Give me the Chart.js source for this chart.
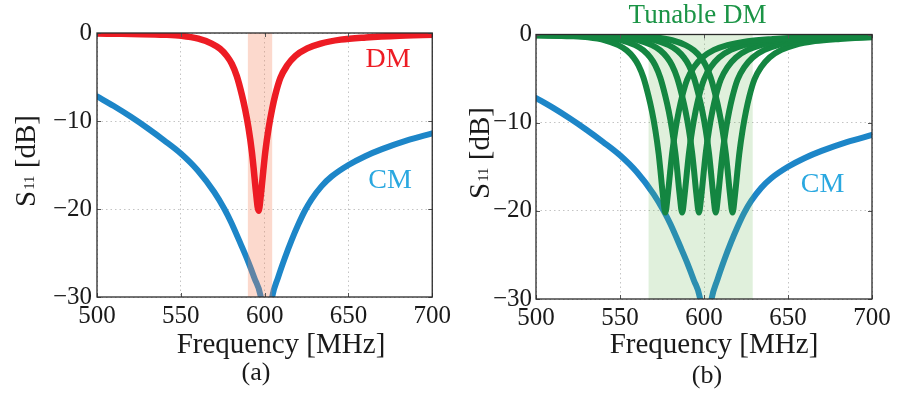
<!DOCTYPE html>
<html>
<head>
<meta charset="utf-8">
<script src="https://cdn.jsdelivr.net/npm/chart.js@4.4.0/dist/chart.umd.min.js"></script>
<style>
  html, body { margin: 0; padding: 0; background: #fff; }
  #wrap { position: relative; width: 897px; height: 395px; overflow: hidden; }
  canvas { position: absolute; top: 0; }
</style>
</head>
<body>
<div id="wrap">
  <canvas id="chartA" width="455" height="395" style="left:0px"></canvas>
  <canvas id="chartB" width="442" height="395" style="left:455px"></canvas>
</div>
<script>
// Axis ticks
const FREQ_TICKS = [500, 550, 600, 650, 700];
const S11_TICKS = [-30, -20, -10, 0];

// Common-mode reflection, MHz / dB
const CM_FREQ = [500, 510, 520, 530, 540, 550, 560, 570, 576, 580, 586, 590, 594, 597.5, 601,
                 604.5, 608, 612, 616, 620, 624, 628, 634, 640, 650, 660, 670, 685, 700];
const CM_DB = [-7.2, -8.3, -9.5, -10.8, -12.2, -13.7, -15.6, -18.1, -20.0, -21.5, -24.1, -25.9, -27.9, -29.8, -35.0,
               -30.0, -27.8, -25.6, -23.6, -21.8, -20.2, -18.9, -17.4, -16.3, -15.0, -14.0, -13.2, -12.2, -11.4];

// Differential-mode reflection, dB (same notch for the fixed and the tuned responses)
const DM_DB = [-0.04, -0.05, -0.12, -0.2, -0.32, -0.65, -1.2, -1.8, -2.6, -3.5,
               -4.9, -7.0, -8.7, -10.8, -13.5, -15.3, -18.0, -20.2, -18.3, -15.3,
               -13.5, -10.8, -8.7, -7.0, -5.1, -3.7, -2.6, -1.75, -1.2, -0.75,
               -0.5, -0.3, -0.2, -0.15];

// Fixed DM response, MHz
const DM_FREQ = [476.4, 500, 520.4, 540.4, 550.4, 560.4, 568.4, 573.4, 577.4, 580.4,
                 583.4, 586.4, 588.4, 590.4, 592.4, 593.4, 594.8, 596.4, 597.8, 599.4,
                 600.4, 602.4, 604.4, 606.4, 609.4, 613.4, 618.4, 625.4, 633.4, 645.4,
                 660.4, 680.4, 700.4, 720.4];

// Tuned DM responses, MHz
const TUNED_FREQ_1 = [457, 480.6, 501, 521, 531, 541, 549, 554, 558, 561,
                      564, 567, 569, 571, 573, 574, 575.4, 577, 578.4, 580,
                      581, 583, 585, 587, 590, 594, 599, 606, 614, 626,
                      641, 661, 681, 701];
const TUNED_FREQ_2 = [467, 490.6, 511, 531, 541, 551, 559, 564, 568, 571,
                      574, 577, 579, 581, 583, 584, 585.4, 587, 588.4, 590,
                      591, 593, 595, 597, 600, 604, 609, 616, 624, 636,
                      651, 671, 691, 711];
const TUNED_FREQ_3 = [477, 500.6, 521, 541, 551, 561, 569, 574, 578, 581,
                      584, 587, 589, 591, 593, 594, 595.4, 597, 598.4, 600,
                      601, 603, 605, 607, 610, 614, 619, 626, 634, 646,
                      661, 681, 701, 721];
const TUNED_FREQ_4 = [487, 510.6, 531, 551, 561, 571, 579, 584, 588, 591,
                      594, 597, 599, 601, 603, 604, 605.4, 607, 608.4, 610,
                      611, 613, 615, 617, 620, 624, 629, 636, 644, 656,
                      671, 691, 711, 731];
const TUNED_FREQ_5 = [497, 520.6, 541, 561, 571, 581, 589, 594, 598, 601,
                      604, 607, 609, 611, 613, 614, 615.4, 617, 618.4, 620,
                      621, 623, 625, 627, 630, 634, 639, 646, 654, 666,
                      681, 701, 721, 741];

// Shaded bands, MHz
const BAND_A = [590, 604.5];
const BAND_B = [567, 629];

const SERIF = '"Liberation Serif", "Times New Roman", serif';
const RED = '#ED1C24';
const BLUE = '#1D86C8';
const GREEN = '#148641';

function pts(xs, ys) { return xs.map((x, i) => ({ x: x, y: ys[i] })); }

function lineSet(data, color, width) {
  return {
    data: data, borderColor: color, borderWidth: width, pointRadius: 0,
    cubicInterpolationMode: 'monotone', fill: false, clip: 0,
    borderCapStyle: 'round', borderJoinStyle: 'round'
  };
}

// Band behind the DM traces (drawn right after the CM trace), frame, inner ticks and text
const panelDecor = {
  id: 'panelDecor',
  afterDatasetDraw(chart, args, opts) {
    if (args.index !== chart.data.datasets.length - 1) return;
    const { ctx, chartArea: a, scales: { x } } = chart;
    const x0 = x.getPixelForValue(opts.band[0]);
    const x1 = x.getPixelForValue(opts.band[1]);
    ctx.save();
    ctx.fillStyle = opts.bandColor;
    ctx.fillRect(x0, a.top, x1 - x0, a.bottom - a.top);
    ctx.restore();
  },
  afterDraw(chart, args, opts) {
    const { ctx, chartArea: a, scales: { x, y } } = chart;
    ctx.save();
    // inner tick marks
    ctx.strokeStyle = '#555';
    ctx.lineWidth = 1;
    ctx.beginPath();
    FREQ_TICKS.forEach(v => {
      const px = Math.round(x.getPixelForValue(v)) + 0.5;
      ctx.moveTo(px, a.bottom); ctx.lineTo(px, a.bottom - 4);
      ctx.moveTo(px, a.top); ctx.lineTo(px, a.top + 4);
    });
    S11_TICKS.forEach(v => {
      const py = Math.round(y.getPixelForValue(v)) + 0.5;
      ctx.moveTo(a.left, py); ctx.lineTo(a.left + 4, py);
      ctx.moveTo(a.right, py); ctx.lineTo(a.right - 4, py);
    });
    ctx.stroke();
    // axes frame
    ctx.strokeStyle = '#2a2a2a';
    ctx.lineWidth = 1.3;
    ctx.strokeRect(a.left, a.top, a.right - a.left, a.bottom - a.top);

    // curve labels and axis titles
    ctx.textBaseline = 'alphabetic';
    opts.texts.forEach(t => {
      ctx.font = t.size + 'px ' + SERIF;
      ctx.fillStyle = t.color;
      ctx.textAlign = 'center';
      ctx.fillText(t.text, t.x, t.y);
    });

    // rotated y title: S11 [dB] with subscript
    const yt = opts.yTitle;
    const big = '29px ' + SERIF, small = '15px ' + SERIF;
    ctx.font = big; const wS = ctx.measureText('S').width; const wRest = ctx.measureText(' [dB]').width;
    ctx.font = small; const wSub = ctx.measureText('11').width;
    const total = wS + 1 + wSub + wRest;
    ctx.translate(yt.x, yt.y);
    ctx.rotate(-Math.PI / 2);
    ctx.fillStyle = '#1a1a1a';
    ctx.textAlign = 'left';
    let cx = -total / 2;
    ctx.font = big; ctx.fillText('S', cx, 0); cx += wS + 1;
    ctx.font = small; ctx.fillText('11', cx, -1); cx += wSub;
    ctx.font = big; ctx.fillText(' [dB]', cx, 0);
    ctx.restore();
  }
};

function makePanel(canvasId, geo, datasets, decor) {
  return new Chart(document.getElementById(canvasId), {
    type: 'line',
    data: { datasets: datasets },
    plugins: [panelDecor],
    options: {
      responsive: false,
      animation: false,
      devicePixelRatio: 1,
      events: [],
      layout: { padding: { left: 0, top: geo.top, right: geo.right, bottom: 0 } },
      plugins: { legend: { display: false }, tooltip: { enabled: false }, panelDecor: decor },
      scales: {
        x: {
          type: 'linear', min: 500, max: 700,
          afterFit: s => { s.height = geo.xh; },
          afterBuildTicks: s => { s.ticks = FREQ_TICKS.map(v => ({ value: v })); },
          ticks: { autoSkip: false, maxRotation: 0, padding: 4, color: '#1a1a1a',
                   font: { family: SERIF, size: 25 } },
          grid: { color: '#c4c4c4', lineWidth: 1, drawTicks: false },
          border: { display: false, dash: [1.5, 3] }
        },
        y: {
          type: 'linear', min: -30, max: 0,
          afterFit: s => { s.width = geo.yw; },
          afterBuildTicks: s => { s.ticks = S11_TICKS.map(v => ({ value: v })); },
          ticks: { padding: geo.ypad, color: '#1a1a1a', font: { family: SERIF, size: 25 },
                   callback: v => (v < 0 ? '\u2212' + Math.abs(v) : String(v)) },
          grid: { color: '#c4c4c4', lineWidth: 1, drawTicks: false },
          border: { display: false, dash: [1.5, 3] }
        }
      }
    }
  });
}

// (a) fixed DM notch
makePanel('chartA', { top: 33, right: 22, xh: 98, yw: 97, ypad: 5 }, [
  lineSet(pts(DM_FREQ, DM_DB), RED, 6.5),
  lineSet(pts(CM_FREQ, CM_DB), BLUE, 6)
], {
  band: BAND_A,
  bandColor: 'rgba(245,130,90,0.3)',
  yTitle: { x: 35, y: 161 },
  texts: [
    { text: 'DM', x: 388, y: 67, size: 28, color: RED },
    { text: 'CM', x: 390, y: 188, size: 28, color: '#2AA8E0' },
    { text: 'Frequency [MHz]', x: 281, y: 353, size: 29, color: '#1a1a1a' },
    { text: '(a)', x: 256, y: 380, size: 26, color: '#1a1a1a' }
  ]
});

// (b) tunable DM notch
makePanel('chartB', { top: 34.5, right: 25, xh: 96, yw: 81, ypad: 4 }, [
  lineSet(pts(TUNED_FREQ_1, DM_DB), GREEN, 6),
  lineSet(pts(TUNED_FREQ_2, DM_DB), GREEN, 6),
  lineSet(pts(TUNED_FREQ_3, DM_DB), GREEN, 6),
  lineSet(pts(TUNED_FREQ_4, DM_DB), GREEN, 6),
  lineSet(pts(TUNED_FREQ_5, DM_DB), GREEN, 6),
  lineSet(pts(CM_FREQ, CM_DB), BLUE, 6)
], {
  band: BAND_B,
  bandColor: 'rgba(100,180,80,0.2)',
  yTitle: { x: 34, y: 153 },
  texts: [
    { text: 'Tunable DM', x: 242.5, y: 23, size: 27, color: '#1B9446' },
    { text: 'CM', x: 367.5, y: 192, size: 28, color: '#2AA8E0' },
    { text: 'Frequency [MHz]', x: 259, y: 353, size: 29, color: '#1a1a1a' },
    { text: '(b)', x: 252, y: 383, size: 26, color: '#1a1a1a' }
  ]
});
</script>
</body>
</html>
